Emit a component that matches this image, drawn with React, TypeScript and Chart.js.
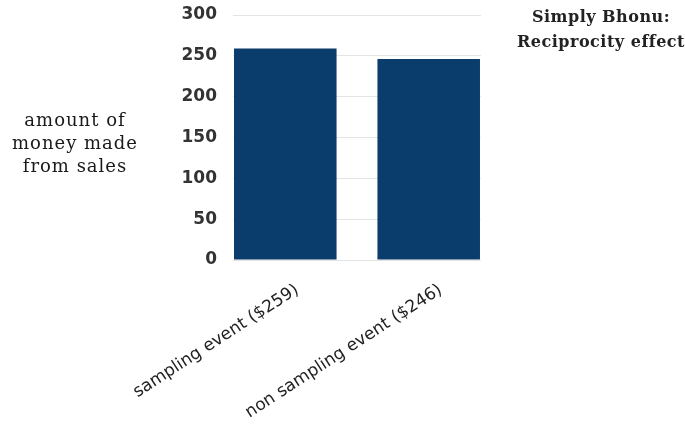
import React, { useEffect, useRef } from "react";
import { Chart, registerables } from "chart.js";

Chart.register(...registerables);

const categories = ["sampling event ($259)", "non sampling event ($246)"];
const sales = [259, 246];
const yTicks = [0, 50, 100, 150, 200, 250, 300];

const BAR_COLOR = "#0b3d6c";

// Value window of the category axis: the outer bar edges sit flush with the plot edges
const X_START = -0.3646;
const X_RANGE = 1.7292;

export default function App() {
  const ref = useRef<HTMLCanvasElement | null>(null);

  useEffect(() => {
    if (!ref.current) return;
    const chart = new Chart(ref.current, {
      type: "bar",
      data: {
        labels: categories,
        datasets: [
          {
            data: sales,
            backgroundColor: BAR_COLOR,
            borderWidth: 0,
            barPercentage: 0.715,
            categoryPercentage: 1,
          },
        ],
      },
      options: {
        animation: false,
        responsive: false,
        maintainAspectRatio: false,
        layout: { padding: { left: 150, right: 204, top: 15, bottom: 0 } },
        plugins: {
          legend: { display: false },
          tooltip: { enabled: false },
          title: { display: false },
        },
        scales: {
          x: {
            offset: false,
            grid: { display: false, drawTicks: false },
            border: { display: false },
            afterBuildTicks(axis: any) {
              axis.ticks = categories.map((_, i) => ({ value: i }));
              axis._startValue = X_START;
              axis._valueRange = X_RANGE;
            },
            ticks: {
              autoSkip: false,
              minRotation: 33,
              maxRotation: 33,
              labelOffset: 12,
              padding: 20,
              color: "#222222",
              font: { family: "DejaVu Sans", size: 17 },
            },
            afterFit(axis: any) {
              axis.height = 169;
            },
          },
          y: {
            min: 0,
            max: 300,
            grid: { color: "#e4e4e4", lineWidth: 1, drawTicks: false },
            border: { display: false },
            afterBuildTicks(axis: any) {
              axis.ticks = yTicks.map((v) => ({ value: v }));
            },
            ticks: {
              padding: 16,
              color: "#333333",
              font: { family: "DejaVu Sans", size: 17, weight: "bold" },
            },
            afterFit(axis: any) {
              axis.width = 83;
              axis.paddingTop = 10;
              axis.paddingBottom = 10;
            },
          },
        },
      },
    });
    return () => chart.destroy();
  }, []);

  return (
    <div
      style={{
        position: "absolute",
        left: 0,
        top: 0,
        width: 685,
        height: 429,
        background: "#ffffff",
      }}
    >
      <canvas ref={ref} width={685} height={429} style={{ display: "block" }} />
      <div
        style={{
          position: "absolute",
          left: 0,
          top: 108,
          width: 150,
          textAlign: "center",
          fontFamily: "DejaVu Serif",
          fontSize: 18,
          letterSpacing: 1,
          lineHeight: "23px",
          color: "#1a1a1a",
        }}
      >
        amount of
        <br />
        money made
        <br />
        from sales
      </div>
      <div
        style={{
          position: "absolute",
          left: 510,
          top: 4,
          width: 182,
          textAlign: "center",
          fontFamily: "DejaVu Serif",
          fontWeight: "bold",
          fontSize: 16,
          letterSpacing: 0.5,
          lineHeight: "25px",
          color: "#222222",
        }}
      >
        Simply Bhonu:
        <br />
        Reciprocity effect
      </div>
    </div>
  );
}
